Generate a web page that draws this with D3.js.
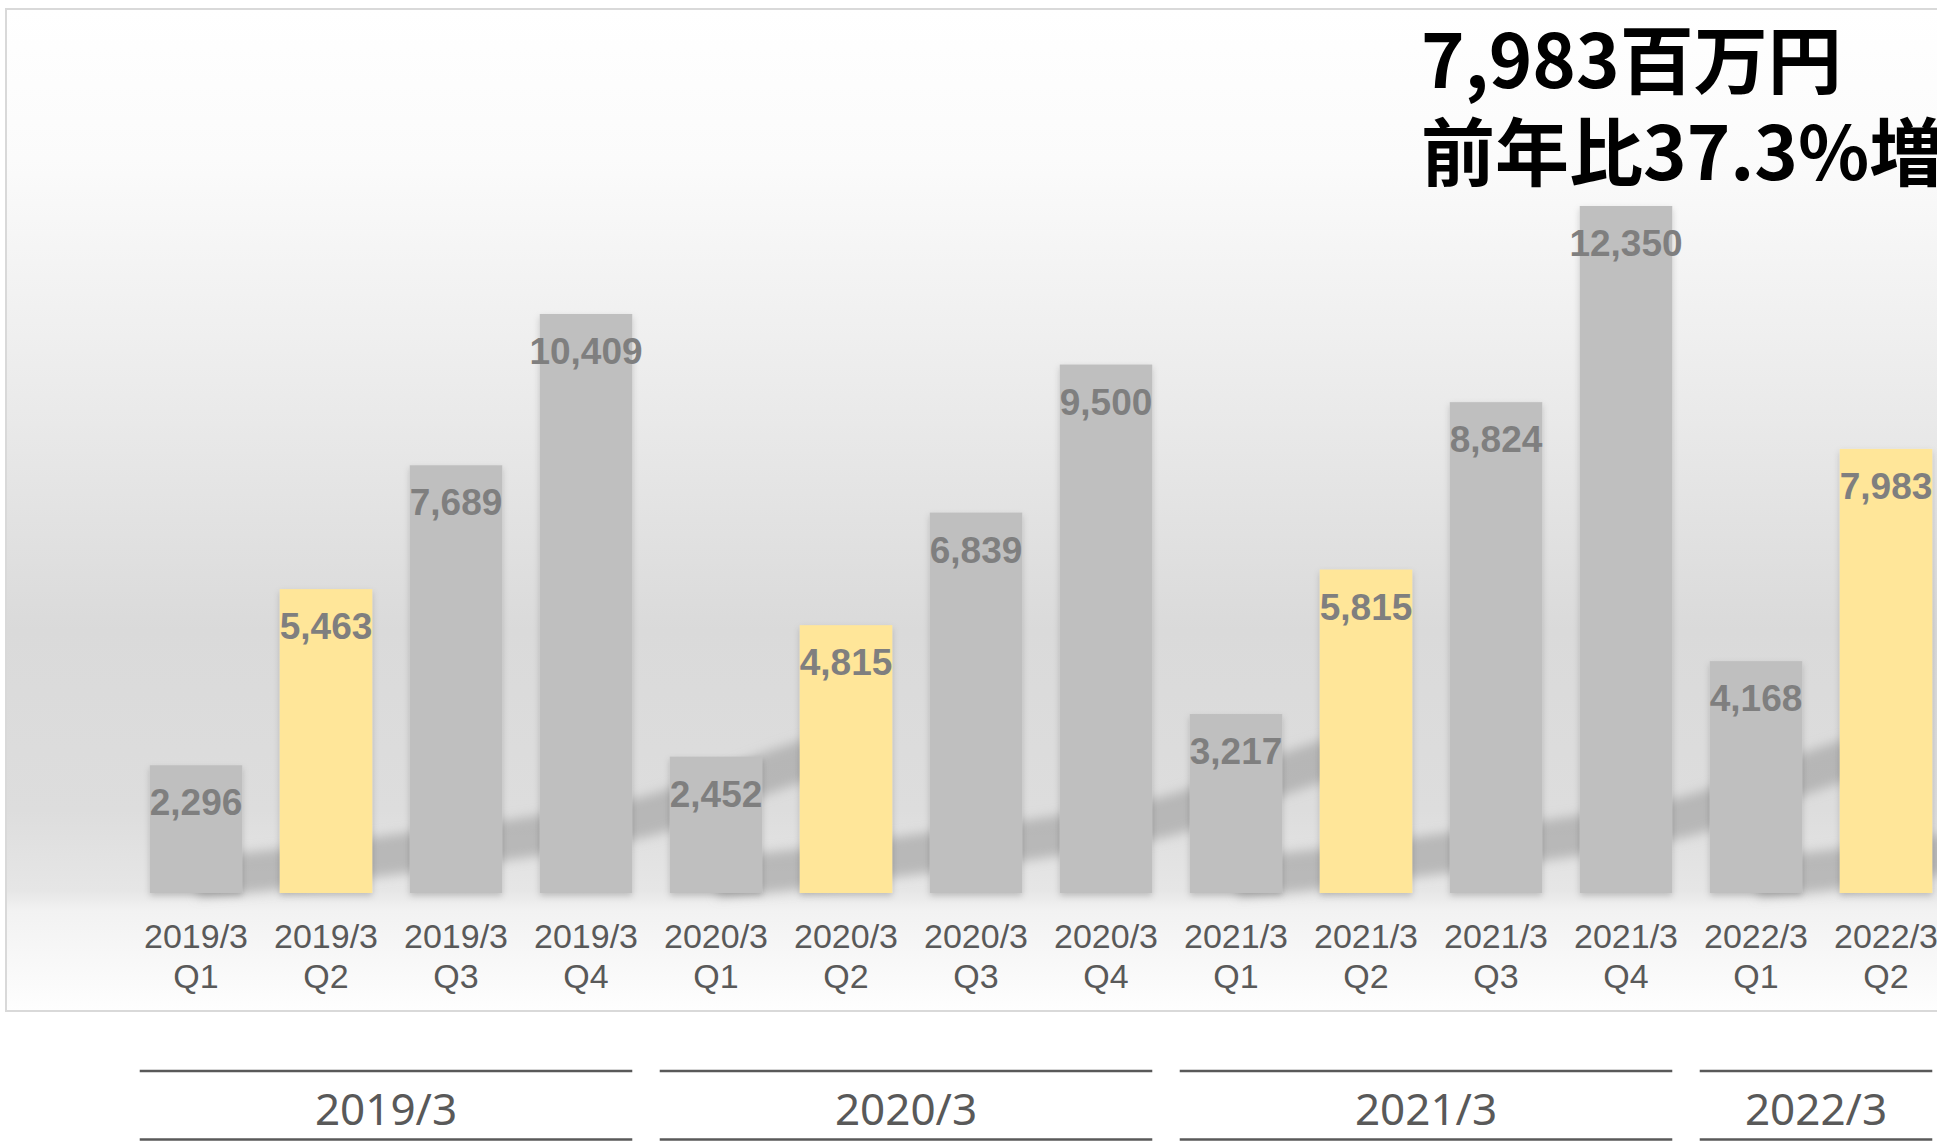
<!DOCTYPE html>
<html>
<head>
<meta charset="utf-8">
<script src="https://cdn.jsdelivr.net/npm/d3@7"></script>
<style>
  body { margin: 0; background: #ffffff; }
  svg { display: block; }
</style>
</head>
<body>
<div id="chart"></div>
<script>
// quarterly sales (百万円)
var fiscalYears = ["2019/3", "2019/3", "2019/3", "2019/3",
                   "2020/3", "2020/3", "2020/3", "2020/3",
                   "2021/3", "2021/3", "2021/3", "2021/3",
                   "2022/3", "2022/3"];
var quarters = ["Q1", "Q2", "Q3", "Q4", "Q1", "Q2", "Q3", "Q4",
                "Q1", "Q2", "Q3", "Q4", "Q1", "Q2"];
var sales = [2296, 5463, 7689, 10409, 2452, 4815, 6839, 9500,
             3217, 5815, 8824, 12350, 4168, 7983];
var highlightQuarter = "Q2";
var headline = ["7,983百万円", "前年比37.3%増"];

var width = 1937, height = 1141;
var baseline = 893;

var svg = d3.select("#chart").append("svg")
    .attr("width", width)
    .attr("height", height);

var defs = svg.append("defs");

var bg = defs.append("linearGradient")
    .attr("id", "panelBg")
    .attr("x1", 0).attr("y1", 0).attr("x2", 0).attr("y2", 1);
[[0, "#ffffff"], [0.15, "#fbfbfb"], [0.4, "#eaeaea"], [0.62, "#dadada"],
 [0.8, "#dddddd"], [0.88, "#e6e6e6"], [0.9, "#f2f2f2"], [1, "#fefefe"]]
    .forEach(function(s) {
        bg.append("stop").attr("offset", s[0]).attr("stop-color", s[1]);
    });

var blur = defs.append("filter").attr("id", "streakBlur")
    .attr("x", "-20%").attr("y", "-50%").attr("width", "140%").attr("height", "200%");
blur.append("feGaussianBlur").attr("stdDeviation", 5.5);

var barShadow = defs.append("filter").attr("id", "barShadow")
    .attr("x", "-20%").attr("y", "-20%").attr("width", "140%").attr("height", "140%");
barShadow.append("feDropShadow")
    .attr("dx", 0).attr("dy", 3).attr("stdDeviation", 3)
    .attr("flood-color", "#000").attr("flood-opacity", 0.18);

// panel
svg.append("rect")
    .attr("x", 6).attr("y", 9)
    .attr("width", width + 20).attr("height", 1002)
    .attr("fill", "url(#panelBg)")
    .attr("stroke", "#d9d9d9")
    .attr("stroke-width", 2);

var idx = d3.range(sales.length);

var x = d3.scaleBand()
    .domain(idx)
    .range([131, 131 + 130 * sales.length])
    .paddingInner(0.288)
    .paddingOuter(0.144);

var y = d3.scaleLinear()
    .domain([0, d3.max(sales)])
    .range([baseline, 206]);

// year groups
var groups = [];
idx.forEach(function(i) {
    var g = groups[groups.length - 1];
    if (!g || g.year !== fiscalYears[i]) {
        groups.push({year: fiscalYears[i], first: i, last: i});
    } else {
        g.last = i;
    }
});

// decorative rising shadow streaks behind bars, one per year
var streakRise = [22, 38, 55, 78, 125];
var streak = d3.line().curve(d3.curveMonotoneX);
var streakLayer = svg.append("g").attr("filter", "url(#streakBlur)");
var gapX = function(i) { return x(i) + x.bandwidth() + (x.step() - x.bandwidth()) / 2; };
groups.forEach(function(g) {
    var pts = [[x(g.first) + x.bandwidth() / 2, baseline - 16]];
    streakRise.forEach(function(r, k) {
        pts.push([gapX(g.first + k), baseline - r]);
    });
    pts.push([gapX(g.first + 4) + 30, baseline - 135]);
    streakLayer.append("path")
        .attr("d", streak(pts))
        .attr("fill", "none")
        .attr("stroke", "#a8a8a8")
        .attr("stroke-width", 40)
        .attr("opacity", 0.72);
});

// bars
svg.append("g").selectAll("rect")
    .data(idx)
    .enter().append("rect")
    .attr("x", function(i) { return x(i); })
    .attr("y", function(i) { return y(sales[i]); })
    .attr("width", x.bandwidth())
    .attr("height", function(i) { return baseline - y(sales[i]); })
    .attr("fill", function(i) {
        return quarters[i] === highlightQuarter ? "#ffe699" : "#bfbfbf";
    })
    .attr("filter", "url(#barShadow)");

// value labels
svg.append("g").selectAll("text")
    .data(idx)
    .enter().append("text")
    .attr("x", function(i) { return x(i) + x.bandwidth() / 2; })
    .attr("y", function(i) { return y(sales[i]) + 50; })
    .attr("text-anchor", "middle")
    .attr("font-family", "'Liberation Sans', Arial, sans-serif")
    .attr("font-weight", "bold")
    .attr("font-size", 37)
    .attr("fill", "#7f7f7f")
    .text(function(i) { return d3.format(",")(sales[i]); });

// category labels
var cat = svg.append("g").selectAll("text")
    .data(idx)
    .enter().append("text")
    .attr("text-anchor", "middle")
    .attr("font-family", "'Liberation Sans', Arial, sans-serif")
    .attr("font-size", 34)
    .attr("fill", "#595959");
cat.append("tspan")
    .attr("x", function(i) { return x(i) + x.bandwidth() / 2; })
    .attr("y", 948)
    .text(function(i) { return fiscalYears[i]; });
cat.append("tspan")
    .attr("x", function(i) { return x(i) + x.bandwidth() / 2; })
    .attr("y", 988)
    .text(function(i) { return quarters[i]; });

// fiscal year brackets below the panel
var yearG = svg.append("g").selectAll("g")
    .data(groups)
    .enter().append("g");
[1071, 1139.5].forEach(function(ly) {
    yearG.append("line")
        .attr("x1", function(g) { return x(g.first) - 10; })
        .attr("x2", function(g) { return x(g.last) + x.bandwidth(); })
        .attr("y1", ly).attr("y2", ly)
        .attr("stroke", "#595959")
        .attr("stroke-width", 2.5);
});
yearG.append("text")
    .attr("x", function(g) { return (x(g.first) - 10 + x(g.last) + x.bandwidth()) / 2; })
    .attr("y", 1125)
    .attr("text-anchor", "middle")
    .attr("font-family", "'Noto Sans', sans-serif")
    .attr("font-size", 44)
    .attr("fill", "#595959")
    .text(function(g) { return g.year; });

// headline
svg.append("g").selectAll("text")
    .data(headline)
    .enter().append("text")
    .attr("x", 1421)
    .attr("y", function(d, i) { return 88 + i * 92; })
    .attr("font-family", "'Noto Sans CJK JP', sans-serif")
    .attr("font-weight", "bold")
    .attr("font-size", 74)
    .attr("fill", "#000000")
    .text(function(d) { return d; });
</script>
</body>
</html>
